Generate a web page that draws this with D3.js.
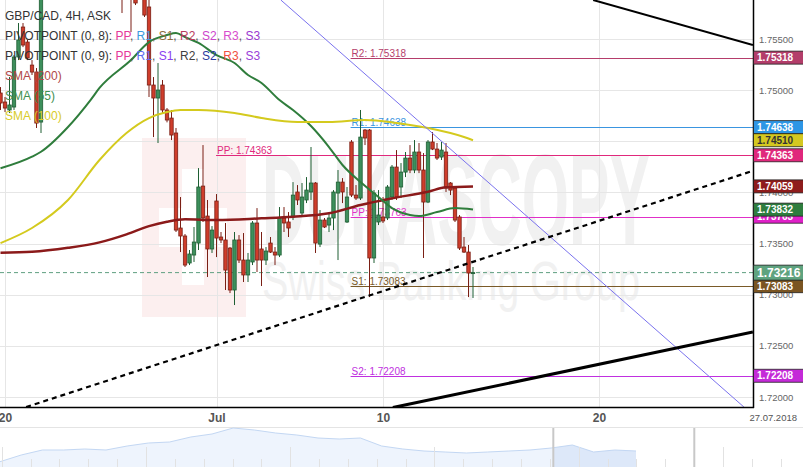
<!DOCTYPE html>
<html><head><meta charset="utf-8">
<script src="https://cdn.jsdelivr.net/npm/d3@7"></script>
<style>html,body{margin:0;padding:0;background:#fff;overflow:hidden}svg{display:block;font-family:"Liberation Sans",Arial,sans-serif}</style>
</head><body><svg id="c" width="803" height="467"></svg>
<script>
// ---------------- DATA ----------------
const title = "GBP/CAD, 4H, ASK";
const firstCandleIdx = -1;
// [open, high, low, close]; null = candle above the visible range
const candles = [
[1.74972,1.75030,1.74806,1.74874],[1.74884,1.74933,1.74786,1.74825],[1.74806,1.75128,1.74776,1.74855],
[1.74835,1.75343,1.74806,1.75324],[1.75324,1.75656,1.75294,1.75490],[1.75617,1.75656,1.75421,1.75441],
[1.75470,1.75490,1.75294,1.75314],[1.75245,1.75294,1.75148,1.75177],[1.75177,1.75216,1.74630,1.74678],
[1.74688,1.76400,1.74581,1.76272],
null,null,null,null,null,null,null,null,null,null,null,null,null,null,null,null,null,
[1.76250,1.76300,1.75754,1.76000],null,[1.76100,1.76200,1.75568,1.76050],[1.76000,1.76050,1.75832,1.75852],null,
[1.75930,1.76000,1.75715,1.75734],[1.75813,1.75900,1.74933,1.75050],[1.75050,1.75128,1.74541,1.74923],
[1.74923,1.75265,1.74483,1.75001],[1.75050,1.75099,1.74776,1.74806],[1.74806,1.74825,1.74685,1.74708],
[1.74727,1.74806,1.74512,1.74561],[1.74581,1.74630,1.73613,1.73632],[1.73652,1.73955,1.73417,1.73574],
[1.73574,1.73593,1.73271,1.73290],[1.73310,1.73437,1.73290,1.73398],[1.73388,1.73662,1.73320,1.73515],
[1.73505,1.74238,1.73437,1.74053],[1.74062,1.74463,1.73711,1.73750],[1.73769,1.73926,1.73173,1.73447],
[1.73447,1.73671,1.73408,1.73632],[1.73916,1.73984,1.73368,1.73554],[1.73564,1.73613,1.73505,1.73535],
[1.73535,1.73701,1.73046,1.73241],[1.73456,1.73466,1.73016,1.73046],[1.73046,1.73613,1.72899,1.73535],
[1.73535,1.73583,1.73310,1.73339],[1.73339,1.73603,1.73124,1.73193],[1.73193,1.73408,1.73124,1.73339],
[1.73320,1.73720,1.73290,1.73701],[1.73701,1.73847,1.73222,1.73339],[1.73447,1.73613,1.73085,1.73339],
[1.73339,1.73466,1.73290,1.73427],[1.73505,1.73564,1.73408,1.73417],[1.73417,1.73466,1.73290,1.73388],
[1.73388,1.73857,1.73368,1.73750],[1.73750,1.73857,1.73613,1.73701],[1.73711,1.73808,1.73564,1.73652],
[1.73760,1.74101,1.73730,1.73974],[1.74004,1.74072,1.73877,1.73926],[1.73799,1.74092,1.73779,1.73955],
[1.73926,1.74150,1.73896,1.74023],[1.74004,1.74444,1.73926,1.74092],[1.74092,1.74101,1.73408,1.73505],
[1.73495,1.73828,1.73466,1.73730],[1.73730,1.73750,1.73652,1.73662],[1.73681,1.73808,1.73613,1.73750],
[1.73750,1.74023,1.73632,1.74004],[1.73994,1.74219,1.73339,1.74101],[1.74101,1.74140,1.73896,1.74004],
[1.73711,1.74053,1.73701,1.73955],[1.74493,1.74512,1.73955,1.73974],[1.73974,1.74072,1.73926,1.73945],
[1.73945,1.74806,1.73926,1.74541],[1.74610,1.74620,1.74463,1.74532],[1.74610,1.74620,1.72977,1.73359],
[1.73359,1.74023,1.73310,1.73994],[1.73711,1.74023,1.73681,1.73779],[1.73760,1.73955,1.73701,1.73721],
[1.73750,1.74072,1.73730,1.74053],[1.73955,1.74268,1.73926,1.74248],[1.74248,1.74414,1.73926,1.73955],
[1.74053,1.74287,1.73945,1.74199],[1.74199,1.74395,1.74150,1.74336],[1.74336,1.74463,1.74189,1.74219],
[1.74219,1.74512,1.74189,1.74395],[1.74395,1.74483,1.74189,1.74219],[1.74219,1.74385,1.73359,1.73906],
[1.73906,1.74512,1.73896,1.74493],[1.74493,1.74590,1.74414,1.74424],[1.74424,1.74483,1.74317,1.74336],
[1.74346,1.74493,1.74317,1.74414],[1.74395,1.74483,1.74004,1.74043],[1.74092,1.74101,1.73974,1.74023],
[1.74043,1.74053,1.73711,1.73730],[1.73760,1.73779,1.73437,1.73456],[1.73466,1.73564,1.73408,1.73417],
[1.73417,1.73486,1.72977,1.73212],[1.73212,1.73271,1.72968,1.73216]
];
const currentPrice = 1.73216;

// moving averages: [candle index, value]
const sma200 = [[-1,1.73411],[6,1.73420],[14,1.73459],[21,1.73512],[27,1.73590],[32,1.73671],[36,1.73714],[40,1.73737],[47,1.73730],[57,1.73747],[64,1.73762],[72,1.73796],[79,1.73877],[86,1.73942],[94,1.74007],[98,1.74050],[104,1.74059]];
const sma55 = [[-1,1.74236],[6,1.74349],[8,1.74398],[14,1.74640],[19,1.74903],[21,1.75021],[28,1.75294],[32,1.75470],[36,1.75539],[38,1.75558],[40,1.75519],[43,1.75461],[47,1.75343],[51,1.75265],[54,1.75148],[57,1.75070],[61,1.74903],[64,1.74806],[68,1.74649],[72,1.74444],[75,1.74268],[79,1.74101],[83,1.73955],[86,1.73847],[90,1.73779],[92,1.73769],[96,1.73808],[100,1.73847],[104,1.73832]];
const sma100 = [[-1,1.73505],[6,1.73652],[14,1.73926],[21,1.74317],[27,1.74581],[32,1.74727],[36,1.74786],[39,1.74806],[43,1.74806],[51,1.74777],[57,1.74728],[65,1.74689],[72,1.74689],[80,1.74708],[87,1.74679],[94,1.74630],[102,1.74542],[104,1.74510]];

// pivot levels
const pivotNames  = ["R2","R1","PP","PP","S1","S2"];
const pivotValues = [1.75318,1.74638,1.74363,1.73763,1.73083,1.72208];
const pivotStart  = [76.8,76.8,46.9,76.8,76.8,76.8];
const pivotColors = ["#b53d6b","#3a95e0","#e0287c","#e030c8","#7a5a28","#c030e0"];

// trend lines: [[idx, price],[idx, price]]
const trendTop    = [[130.7,1.75881],[166.2,1.75441]];
const trendBottom = [[86.2,1.71897],[166.2,1.72635]];
const trendDotted = [[4.7,1.71902],[166.2,1.74211]];
const trendBlue   = [[61.3,1.75881],[164.2,1.71902]];

// axis
const yTicks = [1.720,1.725,1.730,1.735,1.740,1.745,1.750,1.755];
const xTickIdx = [0,47,84,132];
const xTickLabels = ["20","Jul","10","20"];
const endDateLabel = "27.07.2018";

// right price tags (draw order)
const tagValues = [1.75318,1.74638,1.74510,1.74363,1.74059,1.73763,1.73832,1.73083,1.73216,1.72208];
const tagFills  = ["#b33d6a","#2d96e6","#d4c820","#e0287c","#8e1c1c","#e020c8","#2e7d3e","#7a5522","#5fa37f","#c42ad8"];

// legend
const pivotLegendNames = ["PP","R1","S1","R2","S2","R3","S3"];
const pivot8Colors = ["#e5399a","#3a9be0","#8b6b3b","#b83c5e","#cc44cc","#d84ccc","#9a38d0"];
const pivot9Colors = ["#e5399a","#5b6cf0","#8a40f0","#404040","#2b3aa0","#f05040","#9a40d8"];
const smaLegend = ["SMA (200)","SMA (55)","SMA (100)"];
const smaColors = ["#8b1a1a","#2f7d3c","#d4ca1e"];
const smaLegendColors = ["#b04848","#3f8f4f","#d8cc2a"];

// navigator (overview) closes
const navValues = [1.72795,1.7380,1.7455,1.7455,1.7470,1.7455,1.7515,1.7560,1.7575,1.7650,1.7695,1.7785,1.7755,1.7710,1.7680,1.7635,1.7620,1.7635,1.7515,1.7470,1.7440,1.7425,1.7410,1.7425,1.7440,1.7455,1.7485,1.7530,1.7425,1.7455,1.7440];
const navSelection = [26.1, 32.75];

// ---------------- DRAW ----------------
const W = 753, H = 407;
const svg = d3.select("#c");
const x = d3.scaleLinear().domain([0,1]).range([5,9.5]);
const y = d3.scaleLinear().domain([1.72,1.755]).range([397,39]);

svg.append("rect").attr("width",803).attr("height",467).attr("fill","#fff");
svg.append("defs").append("clipPath").attr("id","plot").append("rect").attr("width",W).attr("height",H);
const plot = svg.append("g").attr("clip-path","url(#plot)");

// watermark
const wm = plot.append("g");
wm.append("rect").attr("x",142).attr("y",138).attr("width",104).attr("height",179).attr("fill","#fcefef");
wm.append("rect").attr("x",182).attr("y",169).attr("width",22).attr("height",116).attr("fill","#fff");
wm.append("rect").attr("x",159).attr("y",208).attr("width",68).attr("height",39).attr("fill","#fff");
wm.append("text").attr("x",262).attr("y",245).attr("font-size",130).attr("font-weight","bold")
  .attr("textLength",388).attr("lengthAdjust","spacingAndGlyphs").attr("fill","#f1f1f1").text("DUKASCOPY");
wm.append("text").attr("x",262).attr("y",300).attr("font-size",56)
  .attr("textLength",378).attr("lengthAdjust","spacingAndGlyphs").attr("fill","#f1f1f1").text("Swiss Banking Group");

// grid
plot.append("g").selectAll("line").data(yTicks).join("line")
  .attr("x1",0).attr("x2",W).attr("y1",d=>Math.round(y(d))+0.5).attr("y2",d=>Math.round(y(d))+0.5)
  .attr("stroke","#e6e6e6");
plot.append("g").selectAll("line").data(xTickIdx).join("line")
  .attr("y1",0).attr("y2",H).attr("x1",d=>Math.round(x(d))+0.5).attr("x2",d=>Math.round(x(d))+0.5)
  .attr("stroke","#e6e6e6");

// current price dashed line
plot.append("line").attr("x1",0).attr("x2",W).attr("y1",y(currentPrice)).attr("y2",y(currentPrice))
  .attr("stroke","#5f9f80").attr("stroke-dasharray","4,3");

// pivot lines
pivotValues.forEach((v,i)=>{
  const yy = Math.round(y(v))+0.5;
  plot.append("line").attr("x1",x(pivotStart[i])).attr("x2",W).attr("y1",yy).attr("y2",yy)
    .attr("stroke",pivotColors[i]).attr("stroke-width",1);
  plot.append("text").attr("x",x(pivotStart[i])+1).attr("y",yy-1.5).attr("font-size",10)
    .attr("fill",pivotColors[i]).text(pivotNames[i]+": "+v.toFixed(5));
});

// candles
const cg = plot.append("g");
candles.forEach((c,k)=>{
  if(!c) return;
  const i = k+firstCandleIdx;
  const [o,h,l,cl] = c;
  const up = cl>=o;
  const cx = x(i);
  cg.append("line").attr("x1",cx).attr("x2",cx).attr("y1",y(h)).attr("y2",y(l))
    .attr("stroke",up?"#1f5e33":"#7a1f14").attr("stroke-width",1);
  const top = y(Math.max(o,cl)), bot = y(Math.min(o,cl));
  cg.append("rect").attr("x",cx-1.7).attr("y",top).attr("width",3.4).attr("height",Math.max(1,bot-top))
    .attr("fill",up?"#3d8f5c":"#cf3d2b").attr("stroke",up?"#1f5e33":"#7a1f14").attr("stroke-width",0.8);
});

// SMAs
const ln = d3.line().x(d=>x(d[0])).y(d=>y(d[1])).curve(d3.curveMonotoneX);
[sma200,sma55,sma100].forEach((s,i)=>{
  plot.append("path").attr("d",ln(s)).attr("fill","none").attr("stroke",smaColors[i])
    .attr("stroke-width",i===0?2.5:2);
});

// trend lines
const tl = d3.line().x(d=>x(d[0])).y(d=>y(d[1]));
plot.append("path").attr("d",tl(trendBlue)).attr("stroke","#7a72ee").attr("stroke-width",1).attr("fill","none");
plot.append("path").attr("d",tl(trendTop)).attr("stroke","#000").attr("stroke-width",2).attr("fill","none");
plot.append("path").attr("d",tl(trendBottom)).attr("stroke","#000").attr("stroke-width",3).attr("fill","none");
plot.append("path").attr("d",tl(trendDotted)).attr("stroke","#000").attr("stroke-width",2.2)
  .attr("stroke-dasharray","5,4").attr("fill","none");

// plot border
svg.append("line").attr("x1",W+0.5).attr("x2",W+0.5).attr("y1",0).attr("y2",H+1).attr("stroke","#000").attr("stroke-width",1.5);
svg.append("line").attr("x1",0).attr("x2",W+1).attr("y1",H+0.5).attr("y2",H+0.5).attr("stroke","#000").attr("stroke-width",1.5);

// y axis
const ya = svg.append("g").attr("transform",`translate(${W},0)`)
  .call(d3.axisRight(y).tickValues(yTicks).tickFormat(d3.format(".5f")).tickSize(0).tickPadding(6));
ya.select(".domain").remove();
ya.selectAll("text").attr("font-size",9.5).attr("fill","#666").attr("font-family","Liberation Sans, Arial");

// x axis
const xa = svg.append("g").attr("transform",`translate(0,${H})`)
  .call(d3.axisBottom(x).tickValues(xTickIdx).tickFormat((d,i)=>xTickLabels[i]).tickSize(0).tickPadding(6));
xa.select(".domain").remove();
xa.selectAll("text").attr("font-size",12).attr("font-weight","bold").attr("fill","#555").attr("font-family","Liberation Sans, Arial");
svg.append("text").attr("x",797).attr("y",421).attr("text-anchor","end").attr("font-size",9.5).attr("fill","#555").text(endDateLabel);

// price tags
tagValues.forEach((v,i)=>{
  const big = v===currentPrice;
  const hh = big?15:13;
  const yy = y(v);
  svg.append("rect").attr("x",W+0.5).attr("y",yy-hh/2).attr("width",60).attr("height",hh)
    .attr("fill",tagFills[i]).attr("stroke","#222").attr("stroke-width",0.8);
  svg.append("text").attr("x",W+4).attr("y",yy).attr("dy","0.36em").attr("font-size",big?12:10)
    .attr("font-weight","bold").attr("fill",tagFills[i]==="#d4c820"?"#333":"#fff").text(v.toFixed(5));
});

// legend
const lg = svg.append("g").attr("font-size",12).style("white-space","pre");
lg.append("text").attr("x",5).attr("y",20).attr("fill","#333").text(title);
[["PIVOTPOINT (0, 8): ",pivot8Colors],["PIVOTPOINT (0, 9): ",pivot9Colors]].forEach(([lab,cols],r)=>{
  const t = lg.append("text").attr("x",5).attr("y",40+r*20);
  t.append("tspan").attr("fill","#333").text(lab);
  pivotLegendNames.forEach((n,j)=>{
    t.append("tspan").attr("fill",cols[j]).text(n);
    if(j<pivotLegendNames.length-1) t.append("tspan").attr("fill","#555").text(", ");
  });
});
smaLegend.forEach((s,i)=>{
  lg.append("text").attr("x",5).attr("y",80+i*20).attr("fill",smaLegendColors[i]).text(s);
});

// navigator
const nav = svg.append("g");
nav.append("line").attr("x1",0).attr("x2",803).attr("y1",427.5).attr("y2",427.5).attr("stroke","#e4e4e4");
const nx = d3.scaleLinear().domain([0,1]).range([0,21.2]);
const ny = d3.scaleLinear().domain([1.72,1.78]).range([467,427]);
const navData = navValues.map((v,i)=>[i,v]);
const area = d3.area().x(d=>nx(d[0])).y0(467).y1(d=>ny(d[1]));
const nline = d3.line().x(d=>nx(d[0])).y(d=>ny(d[1]));
nav.append("path").attr("d",area(navData)).attr("fill","#eef4fd");
nav.append("defs").append("clipPath").attr("id","sel").append("rect")
  .attr("x",nx(navSelection[0])).attr("y",427).attr("width",nx(navSelection[1])-nx(navSelection[0])).attr("height",40);
nav.append("path").attr("d",area(navData)).attr("fill","#dde8f9").attr("clip-path","url(#sel)");
nav.append("path").attr("d",nline(navData)).attr("fill","none").attr("stroke","#c3d7f3").attr("stroke-width",1);
for(let k=0;k<28;k++){
  const xx = Math.round(1.7+k*28.85)+0.5;
  nav.append("line").attr("x1",xx).attr("x2",xx).attr("y1",k%5===0?447:459).attr("y2",467).attr("stroke","#e2e2e2");
}
navSelection.forEach(s=>{
  nav.append("line").attr("x1",nx(s)).attr("x2",nx(s)).attr("y1",428).attr("y2",467).attr("stroke","#c8c8c8").attr("stroke-width",2);
});
</script></body></html>
